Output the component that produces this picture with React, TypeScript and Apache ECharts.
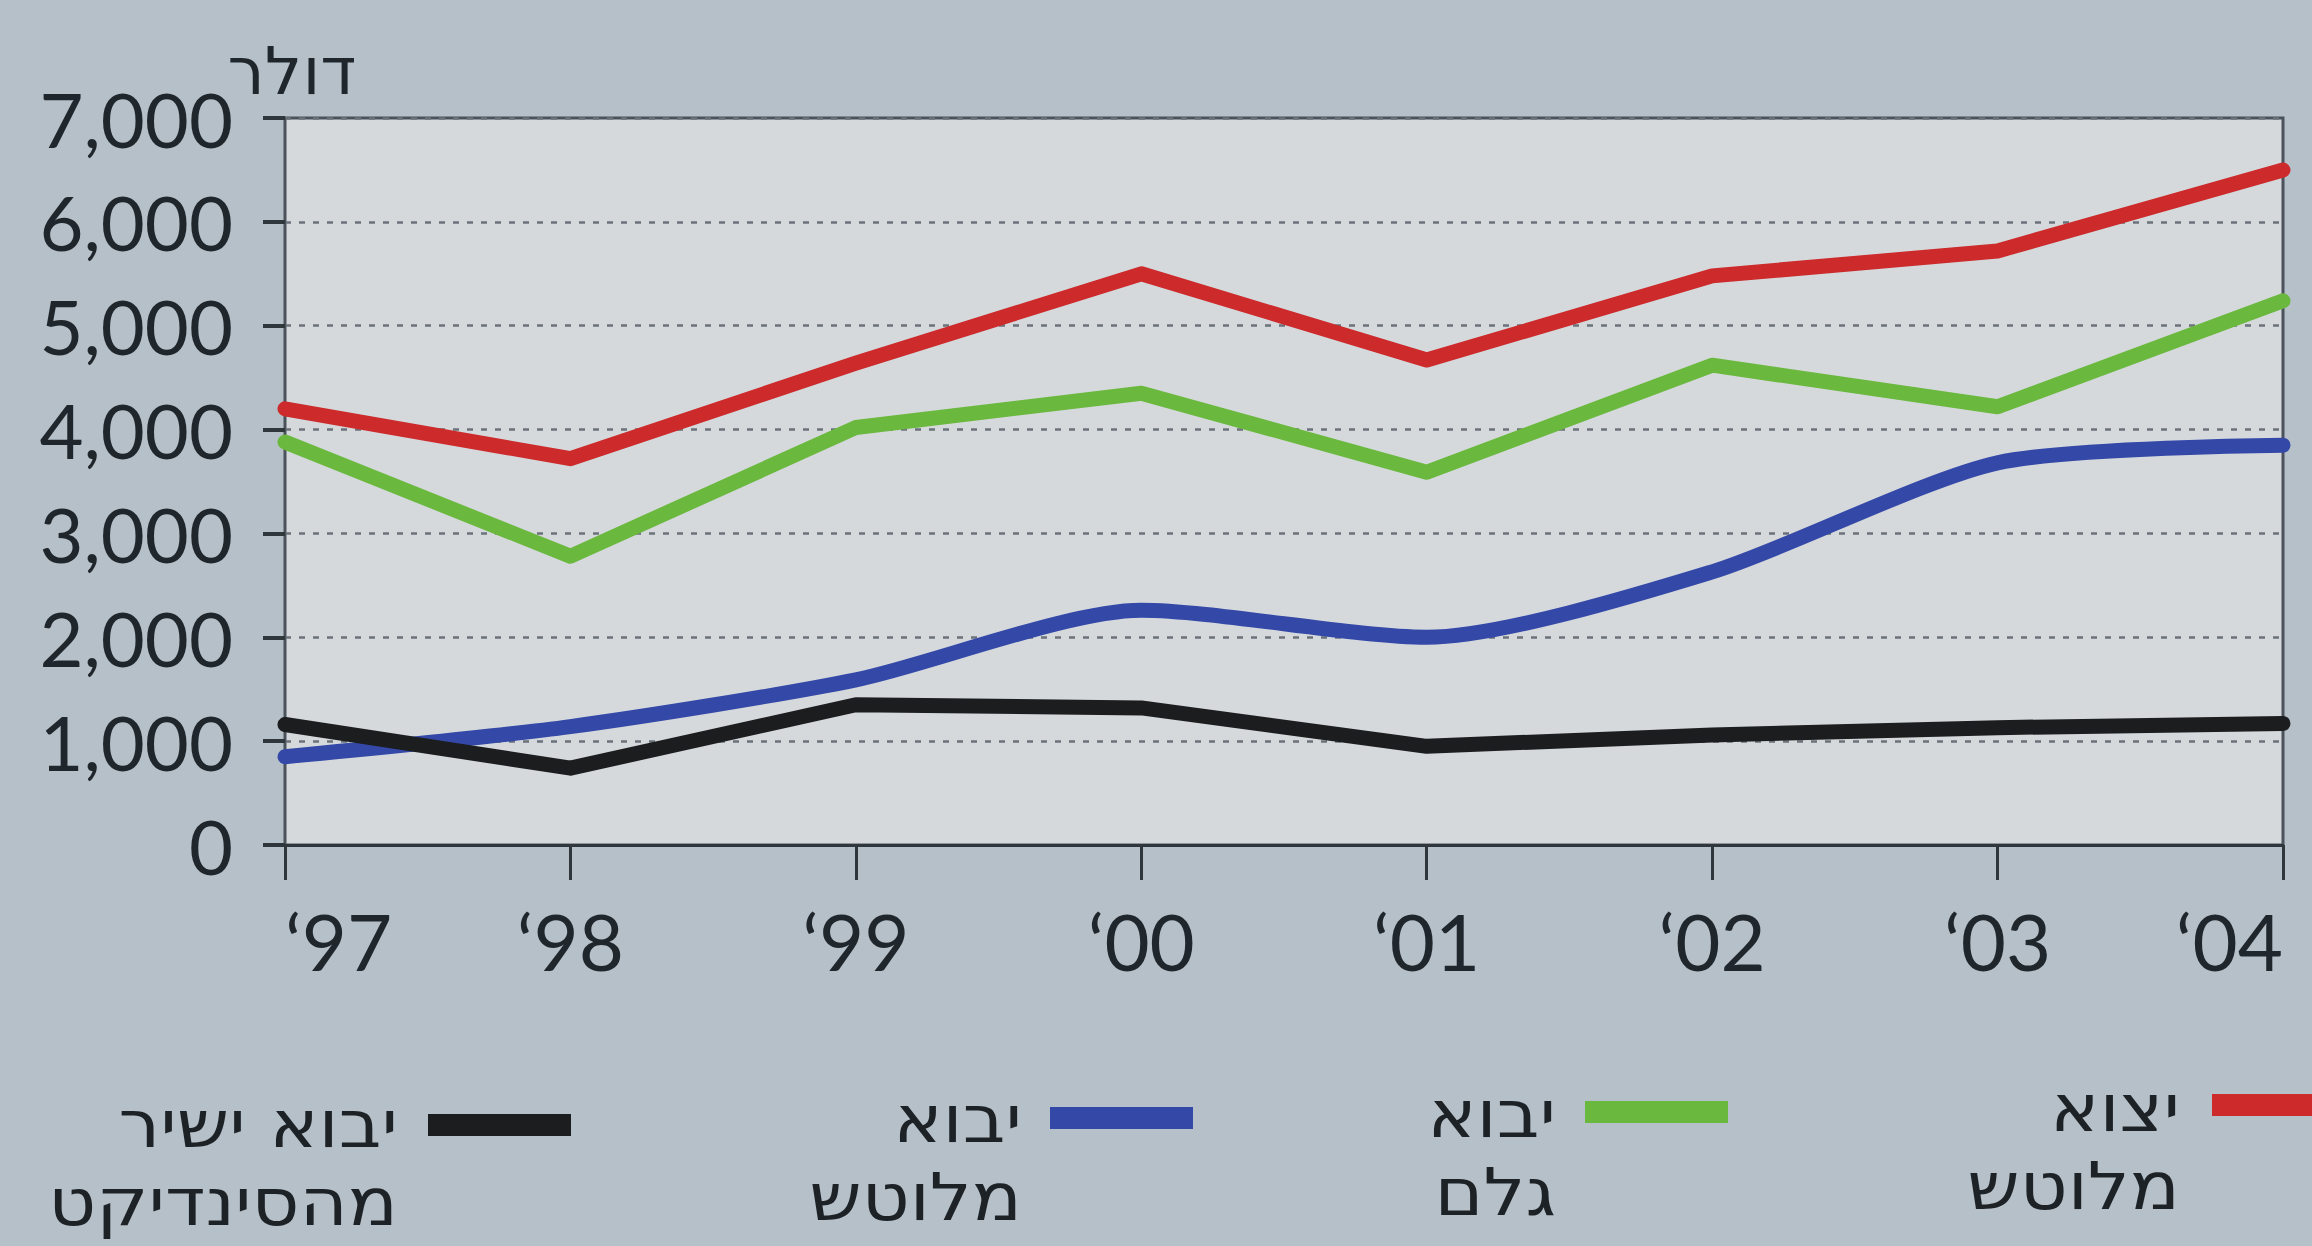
import React, { useEffect, useRef } from "react";
import * as echarts from "echarts";

const years = ["‘97", "‘98", "‘99", "‘00", "‘01", "‘02", "‘03", "‘04"];
const yTicks = [0, 1000, 2000, 3000, 4000, 5000, 6000, 7000];
const yUnit = "דולר";

const exportPolished = [4200, 3720, 4640, 5500, 4670, 5480, 5720, 6500];
const importRough = [3880, 2780, 4020, 4350, 3590, 4620, 4220, 5240];
const importPolished = [850, 1140, 1590, 2260, 2000, 2630, 3680, 3850];
const importSyndicate = [1160, 740, 1350, 1320, 950, 1060, 1130, 1170];

const seriesNames = ["יצוא מלוטש", "יבוא גלם", "יבוא מלוטש", "יבוא ישיר מהסינדיקט"];
const legendLines = [
  ["יצוא", "מלוטש"],
  ["יבוא", "גלם"],
  ["יבוא", "מלוטש"],
  ["יבוא ישיר", "מהסינדיקט"],
];
const seriesColors = ["#cc2a2b", "#6ab83d", "#3448a8", "#1c1d1e"];

// legend layout (right edge of text, swatch left, vertical tilt of the photo)
const legendLayout = [
  { textRight: 2180, swatchX: 2212, swatchY: 1094, textY: 1108 },
  { textRight: 1556, swatchX: 1585, swatchY: 1101, textY: 1114 },
  { textRight: 1022, swatchX: 1050, swatchY: 1107, textY: 1119 },
  { textRight: 398, swatchX: 428, swatchY: 1114, textY: 1124 },
];
const LINE_STEP = 78;

const HEB = '"DejaVu Sans", sans-serif';
const NUM = 'Lato, "Open Sans", sans-serif';

export default function App() {
  const ref = useRef<HTMLDivElement>(null);
  useEffect(() => {
    document.body.style.margin = "0";
    document.body.style.background = "#b6c0c9";
    const chart = echarts.init(ref.current!, null, { renderer: "svg" });
    const data = [exportPolished, importRough, importPolished, importSyndicate];
    const graphic: any[] = [
      {
        type: "text",
        x: 292,
        y: 71,
        style: {
          text: yUnit,
          align: "center",
          verticalAlign: "middle",
          fontFamily: HEB,
          fontSize: 66,
          fill: "#1f262c",
        },
      },
    ];
    legendLines.forEach((lines, i) => {
      const L = legendLayout[i];
      graphic.push({
        type: "rect",
        shape: { x: L.swatchX, y: L.swatchY, width: 143, height: 22 },
        style: { fill: seriesColors[i] },
      });
      lines.forEach((t, k) => {
        graphic.push({
          type: "text",
          x: L.textRight,
          y: L.textY + k * LINE_STEP,
          scaleX: 1.12,
          style: {
            text: t,
            align: "right",
            verticalAlign: "middle",
            fontFamily: HEB,
            fontSize: 66,
            fill: "#1d2226",
          },
        });
      });
    });
    chart.setOption({
      animation: false,
      backgroundColor: "#b6c0c9",
      grid: {
        left: 285,
        right: 29,
        top: 118,
        bottom: 401,
        show: true,
        backgroundColor: "#d5d9dc",
        borderColor: "#4a535b",
        borderWidth: 3,
      },
      xAxis: {
        type: "category",
        data: years,
        boundaryGap: false,
        axisLine: { show: true, lineStyle: { color: "#2f363c", width: 3 } },
        axisTick: { show: true, length: 35, lineStyle: { color: "#2f363c", width: 3 } },
        axisLabel: {
          fontFamily: NUM,
          fontSize: 78,
          color: "#1f262c",
          margin: 57,
          alignMinLabel: "left",
          alignMaxLabel: "right",
        },
        splitLine: { show: false },
      },
      yAxis: {
        type: "value",
        min: yTicks[0],
        max: yTicks[yTicks.length - 1],
        interval: 1000,
        axisLine: { show: true, lineStyle: { color: "#4a535b", width: 2 } },
        axisTick: { show: true, length: 22, lineStyle: { color: "#2f363c", width: 4 } },
        axisLabel: {
          fontFamily: NUM,
          fontSize: 76,
          color: "#1f262c",
          margin: 52,
          formatter: (v: number) => v.toLocaleString("en-US"),
        },
        splitLine: {
          show: true,
          lineStyle: { color: "#6b7279", width: 2.5, type: [6, 8] },
        },
      },
      series: data.map((d, i) => ({
        type: "line",
        name: seriesNames[i],
        data: d,
        smooth: i === 2 ? 0.25 : false,
        symbol: "none",
        z: 2 + i,
        lineStyle: { color: seriesColors[i], width: 15, cap: "round", join: "round" },
      })),
      graphic,
    });
    return () => chart.dispose();
  }, []);
  return (
    <div
      ref={ref}
      style={{ position: "absolute", left: 0, top: 0, width: 2312, height: 1246 }}
    />
  );
}
